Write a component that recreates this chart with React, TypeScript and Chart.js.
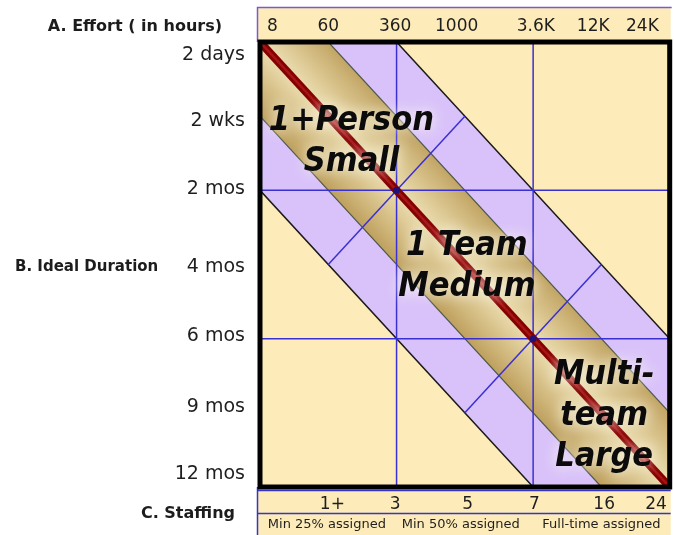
import React, { useEffect, useRef } from 'react';
import { Chart, registerables } from 'chart.js';

Chart.register(...registerables);

// ---------------- data ----------------
const AXIS_MAX = 3; // three size zones per axis
const gridBreaks = [1, 2]; // zone boundaries (360 h / 2 mos / 3 staff, 3.6K h / 6 mos / 7 staff)
const coreHalfWidth = 0.5; // gold "ideal" band half width
const fringeHalfWidth = 1; // lavender tolerance band half width

const effortTicks = ['8', '60', '360', '1000', '3.6K', '12K', '24K'];
const effortAt = [0.09, 0.5, 0.99, 1.44, 2.02, 2.44, 2.8];

const durationTicks = ['2 days', '2 wks', '2 mos', '4 mos', '6 mos', '9 mos', '12 mos'];
const durationAt = [0.09, 0.53, 0.99, 1.52, 1.98, 2.46, 2.91];

const staffingTicks = ['1+', '3', '5', '7', '16', '24'];
const staffingAt = [0.53, 0.99, 1.52, 2.01, 2.52, 2.9];

const assignmentTicks = ['Min 25% assigned', 'Min 50% assigned', 'Full-time assigned'];
const assignmentAt = [0.49, 1.47, 2.5];

const sizeClassLines = [['1+Person', 'Small'], ['1 Team', 'Medium'], ['Multi-', 'team', 'Large']];
const sizeClassAt = [0.67, 1.515, 2.52];

const axisTitles = ['A. Effort ( in hours)', 'B. Ideal Duration', 'C. Staffing'];

// ---------------- styles ----------------
const YELLOW = '#fdecb9';
const LAVENDER = '#d9c2f9';
const BLUE = '#3a2fd2';
const FONT = '"DejaVu Sans", Verdana, sans-serif';

type P = { x: number; y: number };

// line y = x + off clipped to the square, sorted by x
const edge = (off: number): P[] =>
  off < 0
    ? [{ x: 0, y: 0 }, { x: -off, y: 0 }, { x: AXIS_MAX, y: AXIS_MAX + off }]
    : [{ x: 0, y: off }, { x: AXIS_MAX - off, y: AXIS_MAX }, { x: AXIS_MAX, y: AXIS_MAX }];

const lineDs = (data: P[], color: any, width: number, extra: any = {}) => ({
  data,
  borderColor: color,
  borderWidth: width,
  pointRadius: 0,
  pointHoverRadius: 0,
  fill: false,
  tension: 0,
  ...extra,
});

const goldFill = (c: any) => {
  const ch = c.chart;
  const xs = ch.scales.x;
  const ys = ch.scales.y;
  if (!ch.chartArea || !xs || !ys) return '#d9c38a';
  const m = AXIS_MAX / 2;
  const cx = xs.getPixelForValue(m);
  const cy = ys.getPixelForValue(m);
  const ex = xs.getPixelForValue(m + coreHalfWidth);
  const ey = ys.getPixelForValue(m);
  const dx = xs.getPixelForValue(AXIS_MAX) - xs.getPixelForValue(0);
  const dy = ys.getPixelForValue(AXIS_MAX) - ys.getPixelForValue(0);
  const len = Math.hypot(dx, dy);
  const nx = dy / len;
  const ny = -dx / len;
  const dist = Math.abs((ex - cx) * nx + (ey - cy) * ny);
  const g = ch.ctx.createLinearGradient(cx + nx * dist, cy + ny * dist, cx - nx * dist, cy - ny * dist);
  g.addColorStop(0, '#c2a565');
  g.addColorStop(0.25, '#d8c28a');
  g.addColorStop(0.5, '#ecdeb2');
  g.addColorStop(0.75, '#d6bf86');
  g.addColorStop(1, '#bea05e');
  return g;
};

const tickAxis = (
  pos: 'left' | 'top' | 'bottom',
  labels: string[],
  at: number[],
  size: number,
  padding: number,
  extent: number,
  weight: number
) => ({
  type: 'linear',
  axis: pos === 'left' ? 'y' : 'x',
  position: pos,
  reverse: pos === 'left',
  min: 0,
  max: AXIS_MAX,
  weight,
  afterBuildTicks: (s: any) => {
    s.ticks = at.map((v) => ({ value: v }));
  },
  afterFit: (s: any) => {
    if (pos === 'left') s.width = extent;
    else s.height = extent;
  },
  ticks: {
    autoSkip: false,
    maxRotation: 0,
    minRotation: 0,
    padding,
    color: '#1e1e1e',
    font: { family: FONT, size },
    callback: (_v: any, i: number) => labels[i],
  },
  grid: { display: false, drawTicks: false },
  border: { display: false },
});

const decor = {
  id: 'decor',
  beforeDraw(chart: any) {
    const { ctx, chartArea: ca } = chart;
    const W = chart.width;
    const H = chart.height;
    ctx.save();
    ctx.fillStyle = '#ffffff';
    ctx.fillRect(0, 0, W, H);
    const L = ca.left - 3;
    const R = ca.right + 1;
    ctx.fillStyle = YELLOW;
    ctx.fillRect(L, 7, R - L, ca.top - 7);
    ctx.fillRect(L, ca.bottom, R - L, H - ca.bottom);
    ctx.fillRect(ca.left, ca.top, ca.right - ca.left, ca.bottom - ca.top);
    ctx.lineWidth = 1.5;
    ctx.strokeStyle = '#7c58d8';
    ctx.beginPath();
    ctx.moveTo(L + 0.5, ca.top);
    ctx.lineTo(L + 0.5, 7.5);
    ctx.lineTo(R + 1, 7.5);
    ctx.stroke();
    const asg = chart.scales.xAsg;
    ctx.strokeStyle = '#3434c8';
    ctx.beginPath();
    ctx.moveTo(L + 0.5, ca.bottom);
    ctx.lineTo(L + 0.5, H);
    ctx.moveTo(L, ca.bottom + 3.5);
    ctx.lineTo(R, ca.bottom + 3.5);
    ctx.moveTo(L, asg.top + 0.5);
    ctx.lineTo(R, asg.top + 0.5);
    ctx.stroke();
    ctx.restore();
  },
  afterDatasetsDraw(chart: any) {
    const { ctx, chartArea: ca } = chart;
    const xs = chart.scales.x;
    const ys = chart.scales.y;
    ctx.save();
    // band labels
    ctx.font = 'italic bold 34px "DejaVu Sans Condensed", "DejaVu Sans", sans-serif';
    ctx.textAlign = 'center';
    ctx.textBaseline = 'middle';
    sizeClassLines.forEach((lines, k) => {
      const cx = xs.getPixelForValue(sizeClassAt[k]);
      const cy = ys.getPixelForValue(sizeClassAt[k]);
      const lh = 41;
      lines.forEach((t, j) => {
        const y = cy + (j - (lines.length - 1) / 2) * lh;
        ctx.shadowColor = 'rgba(255,252,240,1)';
        ctx.shadowBlur = 14;
        ctx.fillStyle = '#0b0b0b';
        ctx.fillText(t, cx, y);
      });
    });
    ctx.shadowBlur = 0;
    ctx.shadowColor = 'transparent';
    // thick frame
    ctx.lineWidth = 5;
    ctx.strokeStyle = '#000000';
    ctx.strokeRect(ca.left, ca.top, ca.right - ca.left, ca.bottom - ca.top);
    ctx.restore();
  },
  afterDraw(chart: any) {
    const { ctx, chartArea: ca } = chart;
    const ys = chart.scales.y;
    const staff = chart.scales.x;
    ctx.save();
    ctx.fillStyle = '#1c1c1c';
    ctx.textBaseline = 'middle';
    ctx.font = `bold 16px ${FONT}`;
    ctx.textAlign = 'right';
    ctx.fillText(axisTitles[0], 222, (7 + ca.top) / 2 + 2);
    ctx.fillText(axisTitles[2], 235, staff.bottom + 1);
    ctx.font = `bold 15px ${FONT}`;
    ctx.textAlign = 'left';
    ctx.fillText(axisTitles[1], 15, ys.getPixelForValue(durationAt[3]));
    ctx.restore();
  },
};

export default function App() {
  const ref = useRef<HTMLCanvasElement | null>(null);

  useEffect(() => {
    if (!ref.current) return;
    const blue = BLUE;
    const layers: any[] = [
      lineDs(edge(-fringeHalfWidth), '#1b1b1b', 1.5, { fill: '+1', backgroundColor: LAVENDER }),
      lineDs(edge(fringeHalfWidth), '#1b1b1b', 1.5),
      lineDs(edge(-coreHalfWidth), '#4f5a4c', 1.2, { fill: '+1', backgroundColor: goldFill }),
      lineDs(edge(coreHalfWidth), '#4f5a4c', 1.2),
      ...gridBreaks.map((b) => lineDs([{ x: b, y: 0 }, { x: b, y: AXIS_MAX }], blue, 1.5)),
      ...gridBreaks.map((b) => lineDs([{ x: 0, y: b }, { x: AXIS_MAX, y: b }], blue, 1.5)),
      ...gridBreaks.map((b) =>
        lineDs(
          [
            { x: b - fringeHalfWidth / 2, y: b + fringeHalfWidth / 2 },
            { x: b + fringeHalfWidth / 2, y: b - fringeHalfWidth / 2 },
          ],
          blue,
          1.5
        )
      ),
      lineDs([{ x: 0, y: 0 }, { x: AXIS_MAX, y: AXIS_MAX }], '#840000', 8, { borderCapStyle: 'butt' }),
      lineDs([{ x: 0, y: 0 }, { x: AXIS_MAX, y: AXIS_MAX }], '#a81414', 2.5),
      {
        data: gridBreaks.map((b) => ({ x: b, y: b })),
        showLine: false,
        pointRadius: 3.5,
        pointHoverRadius: 3.5,
        pointBackgroundColor: '#22107a',
        pointBorderWidth: 0,
        fill: false,
      },
    ];
    const N = layers.length;
    const datasets = layers.map((d, i) => ({ ...d, order: N - i }));

    const chart = new Chart(ref.current, {
      type: 'line',
      data: { datasets },
      options: {
        responsive: true,
        maintainAspectRatio: false,
        animation: false,
        events: [],
        layout: { padding: { left: 0, right: 3, top: 0, bottom: 0 }, autoPadding: false },
        plugins: {
          legend: { display: false },
          tooltip: { enabled: false },
          filler: { drawTime: 'beforeDatasetsDraw' },
        },
        scales: {
          x: tickAxis('bottom', staffingTicks, staffingAt, 17, 7, 26, 0),
          xAsg: tickAxis('bottom', assignmentTicks, assignmentAt, 13, 4, 22, 1),
          xTop: tickAxis('top', effortTicks, effortAt, 17, 5, 42, 0),
          y: tickAxis('left', durationTicks, durationAt, 19, 15, 260, 0),
        },
      } as any,
      plugins: [decor],
    } as any);

    return () => chart.destroy();
  }, []);

  return (
    <div style={{ position: 'absolute', left: 0, top: 0, width: 674, height: 535 }}>
      <canvas ref={ref} />
    </div>
  );
}
